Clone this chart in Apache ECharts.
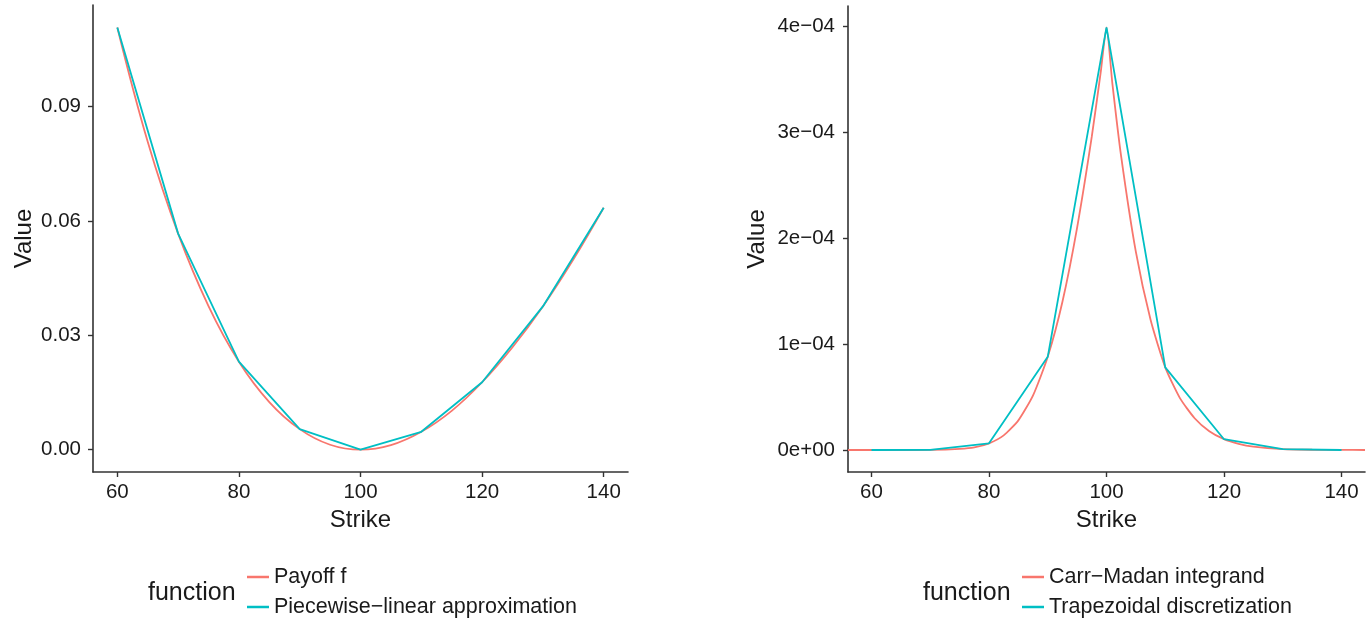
<!DOCTYPE html>
<html lang="en">
<head>
  <meta charset="UTF-8">
  <title>Payoff and Carr-Madan integrand</title>
  <script src="https://cdn.jsdelivr.net/npm/echarts@6/dist/echarts.min.js"></script>
  <style>
    html, body { margin: 0; padding: 0; background: #fff; }
    #main { width: 1369px; height: 622px; }
  </style>
</head>
<body>
  <div id="main"></div>
  <script>
    // left panel: payoff vs piecewise-linear approximation
    var payoffStrike = [60, 65, 70, 75, 80, 85, 90, 95, 100, 105, 110, 115, 120, 125, 130, 135, 140];
    var payoffValue = [0.1108, 0.0808, 0.0567, 0.0377, 0.0231, 0.0125, 0.0054, 0.0013, 0, 0.0012, 0.0047, 0.0102, 0.0177, 0.0269, 0.0376, 0.0499, 0.0635];
    var gridStrike = [60, 70, 80, 90, 100, 110, 120, 130, 140];
    var linearValue = [0.1108, 0.0567, 0.0231, 0.0054, 0, 0.0047, 0.0177, 0.0376, 0.0635];

    // right panel: integrand vs trapezoidal discretization
    var integrandStrike = [56, 60, 65, 70, 75, 77.5, 80, 82.5, 85, 87.5, 90, 92.5, 95, 97.5, 99, 100, 101, 102.5, 105, 107.5, 110, 112.5, 115, 117.5, 120, 122.5, 125, 130, 135, 140, 144];
    var integrandValue = [0, 0, 0, 1e-7, 1.1e-6, 2.5e-6, 6.3e-6, 1.38e-5, 2.8e-5, 5.16e-5, 8.8e-5, 1.40e-4, 2.10e-4, 2.96e-4, 3.56e-4, 3.99e-4, 3.46e-4, 2.77e-4, 1.87e-4, 1.23e-4, 7.8e-5, 4.9e-5, 3.0e-5, 1.77e-5, 1.02e-5, 5.8e-6, 3.2e-6, 9e-7, 2.5e-7, 7e-8, 2e-8];
    var trapezoidValue = [0, 1e-7, 6.3e-6, 8.8e-5, 3.99e-4, 7.8e-5, 1.02e-5, 9e-7, 0];

    var xTicks = [60, 80, 100, 120, 140];
    var leftTicks = [0, 0.03, 0.06, 0.09];
    var leftTickLabels = ['0.00', '0.03', '0.06', '0.09'];
    var rightTicks = [0, 1e-4, 2e-4, 3e-4, 4e-4];
    var rightTickLabels = ['0e+00', '1e\u221204', '2e\u221204', '3e\u221204', '4e\u221204'];

    function pairs(xs, ys) {
      var out = [];
      for (var i = 0; i < xs.length; i++) out.push([xs[i], ys[i]]);
      return out;
    }

    var RED = '#F8766D';
    var TEAL = '#00BFC4';
    var INK = '#1a1a1a';
    var FONT = 'Liberation Sans, Arial, sans-serif';

    function xAxisOf(idx) {
      return {
        type: 'value', gridIndex: idx, min: 56, max: 144,
        name: 'Strike', nameLocation: 'middle', nameGap: 36,
        nameTextStyle: { fontSize: 24, color: INK, fontFamily: FONT },
        axisLine: { show: true, onZero: false, lineStyle: { color: '#333', width: 1.6 } },
        axisTick: { show: true, length: 5, customValues: xTicks, lineStyle: { color: '#333', width: 1.4 } },
        axisLabel: { fontSize: 20.5, color: INK, fontFamily: FONT, margin: 10, customValues: xTicks },
        splitLine: { show: false }
      };
    }

    function yAxisOf(idx, min, max, ticks, labels, gap, margin) {
      return {
        type: 'value', gridIndex: idx, min: min, max: max,
        name: 'Value', nameLocation: 'middle', nameGap: gap,
        nameTextStyle: { fontSize: 24, color: INK, fontFamily: FONT },
        axisLine: { show: true, onZero: false, lineStyle: { color: '#333', width: 1.6 } },
        axisTick: { show: true, length: 5, customValues: ticks, lineStyle: { color: '#333', width: 1.4 } },
        axisLabel: {
          fontSize: 20.5, color: INK, fontFamily: FONT, margin: margin, customValues: ticks,
          formatter: function (v) {
            for (var i = 0; i < ticks.length; i++) {
              if (Math.abs(ticks[i] - v) < 1e-12) return labels[i];
            }
            return '';
          }
        },
        splitLine: { show: false }
      };
    }

    function lineSeries(name, idx, data, color, smooth) {
      return {
        name: name, type: 'line', xAxisIndex: idx, yAxisIndex: idx,
        data: data, showSymbol: false, symbol: 'none', clip: true,
        smooth: smooth,
        lineStyle: { color: color, width: 1.8 },
        itemStyle: { color: color },
        emphasis: { disabled: true }
      };
    }

    var legendText = { fontSize: 21.5, color: INK, fontFamily: FONT };
    var titleText = { fontSize: 25, fontWeight: 'normal', color: INK, fontFamily: FONT };

    var chart = echarts.init(document.getElementById('main'));
    chart.setOption({
      animation: false,
      textStyle: { fontFamily: FONT },
      title: [
        { text: 'function', left: 143, top: 576, textStyle: titleText },
        { text: 'function', left: 918, top: 576, textStyle: titleText }
      ],
      legend: [
        {
          data: ['Payoff f', 'Piecewise\u2212linear approximation'],
          orient: 'vertical', left: 247, top: 566, itemGap: 8, padding: 0,
          icon: 'rect', itemWidth: 22, itemHeight: 2.5,
          textStyle: legendText
        },
        {
          data: ['Carr\u2212Madan integrand', 'Trapezoidal discretization'],
          orient: 'vertical', left: 1022, top: 566, itemGap: 8, padding: 0,
          icon: 'rect', itemWidth: 22, itemHeight: 2.5,
          textStyle: legendText
        }
      ],
      grid: [
        { left: 93, top: 5, width: 535, height: 467 },
        { left: 848, top: 6, width: 517, height: 466 }
      ],
      xAxis: [xAxisOf(0), xAxisOf(1)],
      yAxis: [
        yAxisOf(0, -0.00585, 0.11669, leftTicks, leftTickLabels, 57, 12),
        yAxisOf(1, -0.2077e-4, 4.192e-4, rightTicks, rightTickLabels, 79, 13)
      ],
      series: [
        lineSeries('Payoff f', 0, pairs(payoffStrike, payoffValue), RED, 0.4),
        lineSeries('Piecewise\u2212linear approximation', 0, pairs(gridStrike, linearValue), TEAL, false),
        lineSeries('Carr\u2212Madan integrand', 1, pairs(integrandStrike, integrandValue), RED, 0.2),
        lineSeries('Trapezoidal discretization', 1, pairs(gridStrike, trapezoidValue), TEAL, false)
      ]
    });
  </script>
</body>
</html>
